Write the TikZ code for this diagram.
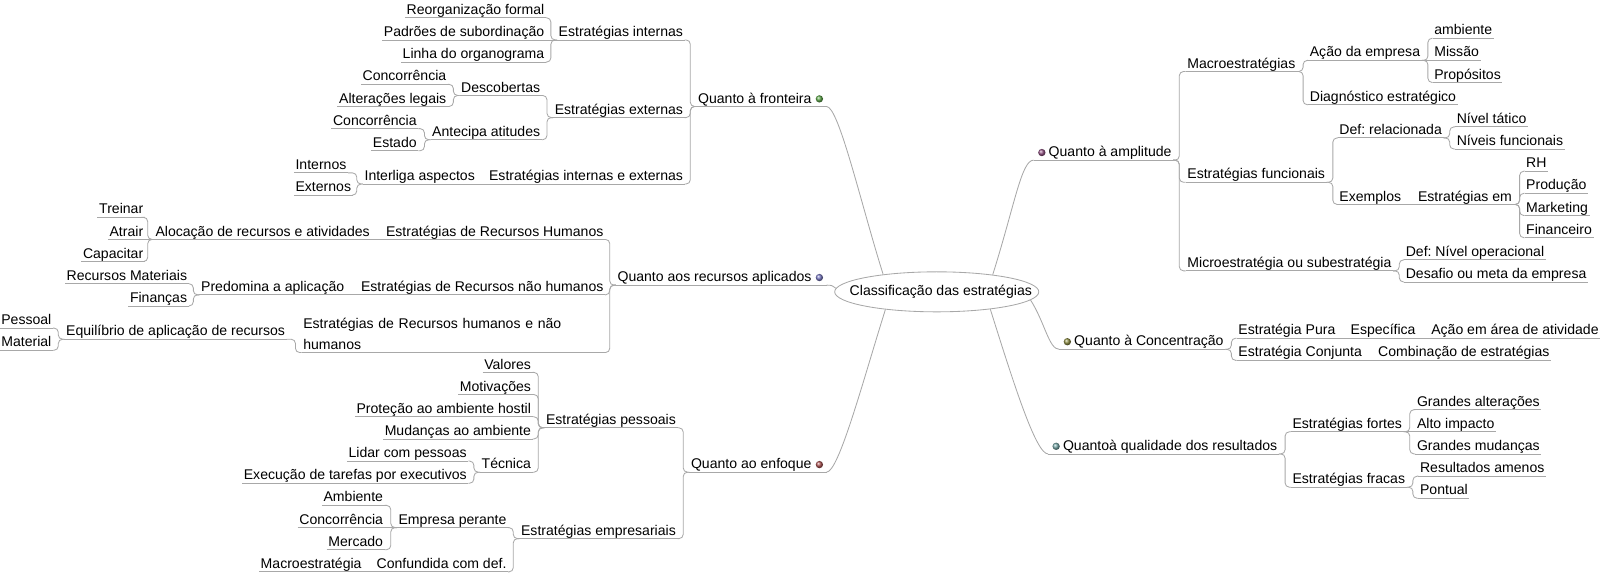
\documentclass[tikz,border=0pt]{standalone}
\usepackage{fontspec}
\setmainfont{Liberation Sans}
\usepackage{tikz}
\usetikzlibrary{calc}
\usetikzlibrary{shapes.geometric}
\usepackage{xcolor}
\frenchspacing

\definecolor{linegray}{RGB}{168,168,168}
\definecolor{dotgreen}{RGB}{95,170,75}
\definecolor{dotblue}{RGB}{125,125,200}
\definecolor{dotred}{RGB}{175,85,85}
\definecolor{dotpurple}{RGB}{150,85,135}
\definecolor{dotolive}{RGB}{145,145,70}
\definecolor{dotteal}{RGB}{120,170,170}

\tikzset{
  link/.style={draw=linegray, line width=0.6pt, rounded corners=3pt},
  under/.style={append after command={(\tikzlastnode.south west) edge[link] (\tikzlastnode.south east)}},
  topic/.style={under, inner xsep=1pt, inner ysep=1pt, text height=7.2pt, text depth=1.2pt},
  lt/.style={topic, anchor=east},
  rt/.style={topic, anchor=west},
  lbr/.style={link, to path={-- ++(-6,0) |- (\tikztotarget)}},
  rbr/.style={link, to path={-- ++(6,0) |- (\tikztotarget)}},
}

\begin{document}
\begin{tikzpicture}[x=0.0255cm, y=-0.0255cm, font=\fontsize{10}{14.5}\selectfont]
  \useasboundingbox (0,0) rectangle (1568,563.5);

  \node[draw=linegray, line width=0.6pt, ellipse, minimum width=5.1cm, minimum height=1cm, inner sep=0pt] (root) at (918,286) {};
  \node (rootlabel) at (922,286) {Classificação das estratégias};

  \node[lt] (fr) at (810,96.9) {Quanto à fronteira\rule{9.5pt}{0pt}};
  \node[lt] (internas) at (671,31.7) {Estratégias internas};
  \node[lt] (reorg) at (535,10) {Reorganização formal};
  \node[lt] (padroes) at (535,31.7) {Padrões de subordinação};
  \node[lt] (linha) at (535,53.4) {Linha do organograma};
  \node[lt] (externas) at (671,107.8) {Estratégias externas};
  \node[lt] (descob) at (531,86.1) {Descobertas};
  \node[lt] (concA) at (439,75.2) {Concorrência};
  \node[lt] (alteracoes) at (439,96.9) {Alterações legais};
  \node[lt] (antecipa) at (531,129.5) {Antecipa atitudes};
  \node[lt] (concB) at (410,118.6) {Concorrência};
  \node[lt] (estado) at (410,140.3) {Estado};
  \node[lt] (intext) at (671,172.9) {Estratégias internas e externas};
  \node[lt] (interliga) at (467,172.9) {Interliga aspectos};
  \node[rt] (internos) at (288,162) {Internos};
  \node[rt] (externos) at (288,183.8) {Externos};

  \node[lt] (rec) at (810,272) {Quanto aos recursos aplicados\rule{9.5pt}{0pt}};
  \node[lt] (rhum) at (593,227.2) {Estratégias de Recursos Humanos};
  \node[lt] (aloc) at (364,227.2) {Alocação de recursos e atividades};
  \node[lt] (treinar) at (142,205.5) {Treinar};
  \node[lt] (atrair) at (142,227.2) {Atrair};
  \node[lt] (capacitar) at (142,248.9) {Capacitar};
  \node[lt] (nhum) at (593,281.5) {Estratégias de Recursos não humanos};
  \node[lt] (predom) at (339,281.5) {Predomina a aplicação};
  \node[lt] (rmat) at (185,270.6) {Recursos Materiais};
  \node[lt] (financas) at (185,292.4) {Finanças};
  \node[under, inner xsep=1pt, inner ysep=2.2pt, text width=7.5cm, align=left, anchor=south east] (hnh) at (593,345.5) {Estratégias de Recursos humanos e não\\humanos};
  \node[lt] (equil) at (281,325) {Equilíbrio de aplicação de recursos};
  \node[lt] (pessoal) at (52,314.1) {Pessoal};
  \node[lt] (material) at (52,335.8) {Material};

  \node[lt] (enf) at (810,455.3) {Quanto ao enfoque\rule{9.5pt}{0pt}};
  \node[lt] (pess) at (664,411.8) {Estratégias pessoais};
  \node[lt] (valores) at (522,357.5) {Valores};
  \node[lt] (motiv) at (522,379.2) {Motivações};
  \node[lt] (protecao) at (522,401) {Proteção ao ambiente hostil};
  \node[lt] (mudancas) at (522,422.7) {Mudanças ao ambiente};
  \node[lt] (tecnica) at (522,455.3) {Técnica};
  \node[lt] (lidar) at (459,444.4) {Lidar com pessoas};
  \node[lt] (execucao) at (459,466.1) {Execução de tarefas por executivos};
  \node[lt] (empr) at (664,520.4) {Estratégias empresariais};
  \node[lt] (perante) at (498,509.6) {Empresa perante};
  \node[lt] (ambB) at (377,487.8) {Ambiente};
  \node[lt] (concC) at (377,509.6) {Concorrência};
  \node[lt] (mercado) at (377,531.3) {Mercado};
  \node[lt] (confund) at (498,553) {Confundida com def.};
  \node[lt] (macroe) at (356,553) {Macroestratégia};

  \node[rt] (amp) at (1013,149.5) {\hspace{9.5pt}Quanto à amplitude};
  \node[rt] (macro) at (1162,62.6) {Macroestratégias};
  \node[rt] (acao) at (1282,51.7) {Ação da empresa};
  \node[rt] (ambA) at (1404,30) {ambiente};
  \node[rt] (missao) at (1404,51.7) {Missão};
  \node[rt] (propositos) at (1404,73.4) {Propósitos};
  \node[rt] (diag) at (1282,95.2) {Diagnóstico estratégico};
  \node[rt] (func) at (1162,171.2) {Estratégias funcionais};
  \node[rt] (defrel) at (1311,127.7) {Def: relacionada};
  \node[rt] (nivtat) at (1426,116.9) {Nível tático};
  \node[rt] (nivfunc) at (1426,138.6) {Níveis funcionais};
  \node[rt] (exemplos) at (1311,192.9) {Exemplos};
  \node[rt] (estem) at (1388,192.9) {Estratégias em};
  \node[rt] (rh) at (1494,160.3) {RH};
  \node[rt] (producao) at (1494,182) {Produção};
  \node[rt] (marketing) at (1494,203.8) {Marketing};
  \node[rt] (financeiro) at (1494,225.5) {Financeiro};
  \node[rt] (micro) at (1162,258) {Microestratégia ou subestratégia};
  \node[rt] (defop) at (1376,247.2) {Def: Nível operacional};
  \node[rt] (desafio) at (1376,268.9) {Desafio ou meta da empresa};

  \node[rt] (conc) at (1038,334.9) {\hspace{9.5pt}Quanto à Concentração};
  \node[rt] (pura) at (1212,324) {Estratégia Pura};
  \node[rt] (especifica) at (1322,324) {Específica};
  \node[rt] (acaoarea) at (1401,324) {Ação em área de atividade};
  \node[rt] (conj) at (1212,345.7) {Estratégia Conjunta};
  \node[rt] (comb) at (1349,345.7) {Combinação de estratégias};

  \node[rt] (qual) at (1027,437.4) {\hspace{9.5pt}Quantoà qualidade dos resultados};
  \node[rt] (fortes) at (1265,415.7) {Estratégias fortes};
  \node[rt] (galt) at (1387,394) {Grandes alterações};
  \node[rt] (alto) at (1387,415.7) {Alto impacto};
  \node[rt] (gmud) at (1387,437.4) {Grandes mudanças};
  \node[rt] (fracas) at (1265,470) {Estratégias fracas};
  \node[rt] (resam) at (1390,459.2) {Resultados amenos};
  \node[rt] (pontual) at (1390,480.9) {Pontual};

  \draw[link] (fr.south east) .. controls +(12,0) and +(-22,-70) .. (root.162);
  \draw[link] (rec.south east) .. controls +(5,0) and +(-4,-3) .. (root.178);
  \draw[link] (enf.south east) .. controls +(12,0) and +(-22,70) .. (root.199);
  \draw[link] (root.17) .. controls +(22,-70) and +(-12,0) .. (amp.south west);
  \draw[link] (root.-5) .. controls +(14,22) and +(-10,0) .. (conc.south west);
  \draw[link] (root.-18) .. controls +(22,70) and +(-12,0) .. (qual.south west);

  \shade[ball color=dotgreen] ($(fr.east)+(-7,0)$) circle (2.6pt);
  \shade[ball color=dotblue] ($(rec.east)+(-7,0)$) circle (2.6pt);
  \shade[ball color=dotred] ($(enf.east)+(-7,0)$) circle (2.6pt);
  \shade[ball color=dotpurple] ($(amp.west)+(8,0)$) circle (2.6pt);
  \shade[ball color=dotolive] ($(conc.west)+(8,0)$) circle (2.6pt);
  \shade[ball color=dotteal] ($(qual.west)+(8,0)$) circle (2.6pt);

  \path (fr.south west) edge[lbr] (internas.south east) edge[lbr] (externas.south east) edge[lbr] (intext.south east);
  \path (internas.south west) edge[lbr] (reorg.south east) edge[link] (padroes.south east) edge[lbr] (linha.south east);
  \path (externas.south west) edge[lbr] (descob.south east) edge[lbr] (antecipa.south east);
  \path (descob.south west) edge[lbr] (concA.south east) edge[lbr] (alteracoes.south east);
  \path (antecipa.south west) edge[lbr] (concB.south east) edge[lbr] (estado.south east);
  \path (intext.south west) edge[link] (interliga.south east);
  \path (interliga.south west) edge[lbr] (internos.south east) edge[lbr] (externos.south east);

  \path (rec.south west) edge[lbr] (rhum.south east) edge[lbr] (nhum.south east) edge[lbr] (hnh.south east);
  \path (rhum.south west) edge[link] (aloc.south east);
  \path (aloc.south west) edge[lbr] (treinar.south east) edge[link] (atrair.south east) edge[lbr] (capacitar.south east);
  \path (nhum.south west) edge[link] (predom.south east);
  \path (predom.south west) edge[lbr] (rmat.south east) edge[lbr] (financas.south east);
  \path (hnh.south west) edge[lbr] (equil.south east);
  \path (equil.south west) edge[lbr] (pessoal.south east) edge[lbr] (material.south east);

  \path (enf.south west) edge[lbr] (pess.south east) edge[lbr] (empr.south east);
  \path (pess.south west) edge[lbr] (valores.south east) edge[lbr] (motiv.south east) edge[lbr] (protecao.south east) edge[lbr] (mudancas.south east) edge[lbr] (tecnica.south east);
  \path (tecnica.south west) edge[lbr] (lidar.south east) edge[lbr] (execucao.south east);
  \path (empr.south west) edge[lbr] (perante.south east) edge[lbr] (confund.south east);
  \path (perante.south west) edge[lbr] (ambB.south east) edge[link] (concC.south east) edge[lbr] (mercado.south east);
  \path (confund.south west) edge[link] (macroe.south east);

  \path (amp.south east) edge[rbr] (macro.south west) edge[rbr] (func.south west) edge[rbr] (micro.south west);
  \path (macro.south east) edge[rbr] (acao.south west) edge[rbr] (diag.south west);
  \path (acao.south east) edge[rbr] (ambA.south west) edge[link] (missao.south west) edge[rbr] (propositos.south west);
  \path (func.south east) edge[rbr] (defrel.south west) edge[rbr] (exemplos.south west);
  \path (defrel.south east) edge[rbr] (nivtat.south west) edge[rbr] (nivfunc.south west);
  \path (exemplos.south east) edge[link] (estem.south west);
  \path (estem.south east) edge[rbr] (rh.south west) edge[rbr] (producao.south west) edge[rbr] (marketing.south west) edge[rbr] (financeiro.south west);
  \path (micro.south east) edge[rbr] (defop.south west) edge[rbr] (desafio.south west);
  \path (conc.south east) edge[rbr] (pura.south west) edge[rbr] (conj.south west);
  \path (pura.south east) edge[link] (especifica.south west);
  \path (especifica.south east) edge[link] (acaoarea.south west);
  \path (conj.south east) edge[link] (comb.south west);
  \path (qual.south east) edge[rbr] (fortes.south west) edge[rbr] (fracas.south west);
  \path (fortes.south east) edge[rbr] (galt.south west) edge[link] (alto.south west) edge[rbr] (gmud.south west);
  \path (fracas.south east) edge[rbr] (resam.south west) edge[rbr] (pontual.south west);
\end{tikzpicture}
\end{document}
